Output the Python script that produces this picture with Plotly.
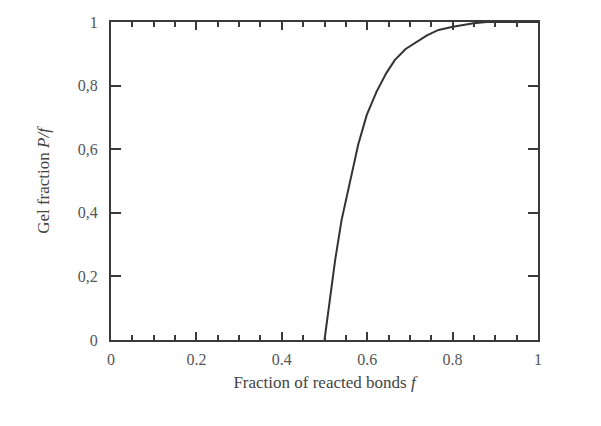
import plotly.graph_objects as go

# Gel fraction curve
f_vals = [0.5, 0.513, 0.525, 0.540, 0.556, 0.567, 0.579, 0.599, 0.622, 0.645, 0.665, 0.69, 0.716, 0.74, 0.767, 0.801, 0.849, 0.88, 0.93, 1.0]
p_vals = [0.0, 0.126, 0.252, 0.377, 0.472, 0.545, 0.615, 0.708, 0.781, 0.84, 0.881, 0.915, 0.938, 0.958, 0.975, 0.985, 0.996, 1.0, 1.0, 1.0]

x_tickvals = [0, 0.2, 0.4, 0.6, 0.8, 1]
x_ticktext = ["0", "0.2", "0.4", "0.6", "0.8", "1"]
y_tickvals = [0, 0.2, 0.4, 0.6, 0.8, 1]
y_ticktext = ["0", "0,2", "0,4", "0,6", "0,8", "1"]

axis_color = "#3a3a3a"
font_family = "Liberation Serif, Times New Roman, serif"

fig = go.Figure()
fig.add_trace(go.Scatter(x=f_vals, y=p_vals, mode="lines",
                         line=dict(color="#333333", width=2), showlegend=False))

fig.update_layout(
    width=601, height=426,
    margin=dict(l=111, r=63, t=22, b=86),
    paper_bgcolor="white", plot_bgcolor="white",
    font=dict(family=font_family, size=16, color="#555555"),
)
fig.update_xaxes(
    range=[0, 1], showgrid=False, zeroline=False,
    showline=True, linecolor=axis_color, linewidth=2, mirror="allticks",
    ticks="inside", ticklen=8, tickwidth=1.5, tickcolor=axis_color,
    tickvals=x_tickvals, ticktext=x_ticktext, ticklabelstandoff=4,
    minor=dict(ticks="inside", ticklen=5, tickwidth=1.5, tickcolor=axis_color, dtick=0.05, showgrid=False),
    title=dict(text="Fraction of reacted bonds <i>f</i>", font=dict(size=17, color="#444444"), standoff=9),
    tickfont=dict(size=16, color="#555555"),
)
fig.update_yaxes(
    range=[0, 1], showgrid=False, zeroline=False,
    showline=True, linecolor=axis_color, linewidth=2, mirror="allticks",
    ticks="inside", ticklen=10, tickwidth=1.5, tickcolor=axis_color,
    tickvals=y_tickvals, ticktext=y_ticktext, ticklabelstandoff=8,
    title=dict(text="Gel fraction <i>P/f</i>", font=dict(size=17, color="#444444"), standoff=24),
    tickfont=dict(size=16, color="#555555"),
)

fig.write_html("out.html")
